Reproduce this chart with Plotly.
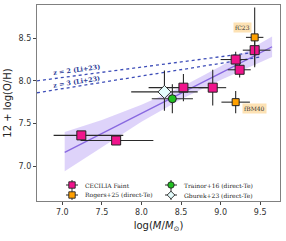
import plotly.graph_objects as go

# CECILIA Faint
cec_x = [7.24, 7.68, 8.53, 8.90, 9.19, 9.24, 9.43]
cec_y = [7.36, 7.30, 7.92, 7.92, 8.25, 8.13, 8.36]
cec_xm = [0.35, 0.45, 0.44, 0.18, 0.19, 0.15, 0.15]
cec_xp = [0.53, 0.47, 0.31, 0.17, 0.15, 0.14, 0.20]
cec_ye = [0.04, 0.04, 0.16, 0.21, 0.09, 0.09, 0.18]

# Rogers+25
rog_x = [9.43, 9.19]
rog_y = [8.51, 7.75]
rog_xe = [0.11, 0.18]
rog_ye = [0.35, 0.13]
rog_lab = ["fC23", "fBM40"]

# Trainor+16
tra_x = [8.39]
tra_y = [7.79]
tra_xe = [0.26]
tra_ye = [0.17]

# Gburek+23
gbu_x = [8.29]
gbu_y = [7.87]
gbu_xe = [0.42]
gbu_yp = [0.25]
gbu_ym = [0.22]

# Li+23 relations
li_x = [6.68, 9.5]
li_z2 = [8.00, 8.344]
li_z3 = [7.86, 8.28]

# Fit and band
fit_x = [7.03, 7.5, 8.0, 8.5, 9.0, 9.65]
fit_y = [7.16, 7.38, 7.62, 7.855, 8.09, 8.40]
band_lo = [6.94, 7.22, 7.52, 7.785, 8.01, 8.28]
band_hi = [7.40, 7.54, 7.72, 7.925, 8.17, 8.52]

legend_names = ["CECILIA Faint", "Rogers+25 (direct-Te)",
                "Trainor+16 (direct-Te)", "Gburek+23 (direct-Te)"]

ERR = "#2a2a2a"
SERIF = "DejaVu Serif"
W, H = 286, 241
ML, MR, MT, MB = 37, 6, 5, 40
PW, PH = W - ML - MR, H - MT - MB

COL_CEC = "#f0148c"
COL_ROG = "#ffa000"
COL_TRA = "#22c022"
COL_GBU = "#e4fcfc"

fig = go.Figure()

fig.add_trace(go.Scatter(x=fit_x, y=band_lo, mode="lines", line=dict(width=0),
                         showlegend=False, hoverinfo="skip"))
fig.add_trace(go.Scatter(x=fit_x, y=band_hi, mode="lines", line=dict(width=0),
                         fill="tonexty", fillcolor="rgba(160,130,240,0.35)",
                         showlegend=False, hoverinfo="skip"))
fig.add_trace(go.Scatter(x=fit_x, y=fit_y, mode="lines",
                         line=dict(color="#8868e0", width=1.3), showlegend=False))

for yy in (li_z2, li_z3):
    fig.add_trace(go.Scatter(x=li_x, y=yy, mode="lines",
                             line=dict(color="#3d4db8", width=1.3, dash="dot"),
                             showlegend=False))

fig.add_trace(go.Scatter(
    x=cec_x, y=cec_y, mode="markers", name=legend_names[0], showlegend=False,
    marker=dict(symbol="square", size=9, color=COL_CEC, line=dict(color="#222", width=1)),
    error_x=dict(type="data", array=cec_xp, arrayminus=cec_xm, color=ERR, thickness=1.1, width=0),
    error_y=dict(type="data", array=cec_ye, color=ERR, thickness=1.1, width=0)))
fig.add_trace(go.Scatter(
    x=rog_x, y=rog_y, mode="markers", name=legend_names[1], showlegend=False,
    marker=dict(symbol="square", size=7, color=COL_ROG, line=dict(color="#222", width=1)),
    error_x=dict(type="data", array=rog_xe, color=ERR, thickness=1.1, width=0),
    error_y=dict(type="data", array=rog_ye, color=ERR, thickness=1.1, width=0)))
fig.add_trace(go.Scatter(
    x=tra_x, y=tra_y, mode="markers", name=legend_names[2], showlegend=False,
    marker=dict(symbol="circle", size=8, color=COL_TRA, line=dict(color="#222", width=1)),
    error_x=dict(type="data", array=tra_xe, color=ERR, thickness=1.1, width=0),
    error_y=dict(type="data", array=tra_ye, color=ERR, thickness=1.1, width=0)))
fig.add_trace(go.Scatter(
    x=gbu_x, y=gbu_y, mode="markers", name=legend_names[3], showlegend=False,
    marker=dict(symbol="diamond", size=10, color=COL_GBU, line=dict(color="#333", width=1)),
    error_x=dict(type="data", array=gbu_xe, color=ERR, thickness=1.1, width=0),
    error_y=dict(type="data", array=gbu_yp, arrayminus=gbu_ym, color=ERR, thickness=1.1, width=0)))

# labels for Rogers points
fig.add_annotation(x=rog_x[0], y=rog_y[0], text=rog_lab[0], showarrow=False,
                   xshift=-12, yshift=10, bgcolor="#fde2b4",
                   font=dict(family=SERIF, size=6, color="#333"), borderpad=1)
fig.add_annotation(x=rog_x[1], y=rog_y[1], text=rog_lab[1], showarrow=False,
                   xshift=19, yshift=-6, bgcolor="#fde2b4",
                   font=dict(family=SERIF, size=6, color="#333"), borderpad=1)

fig.add_annotation(x=7.18, y=8.105, text="<b>z = 2 (Li+23)</b>", showarrow=False,
                   textangle=-7.5, yshift=2,
                   font=dict(family=SERIF, size=6.4, color="#2c3b96"))
fig.add_annotation(x=7.18, y=7.963, text="<b>z = 3 (Li+23)</b>", showarrow=False,
                   textangle=-9, yshift=2,
                   font=dict(family=SERIF, size=6.4, color="#2c3b96"))


# manual legend (pixel positions converted to paper coords)
def px(xp):
    return (xp - ML) / PW


def py(yp):
    return (H - MB - yp) / PH


legend_items = [
    (72, 185, "square", COL_CEC, legend_names[0]),
    (72, 195, "square", COL_ROG, legend_names[1]),
    (171, 185, "circle", COL_TRA, legend_names[2]),
    (171, 195, "diamond", COL_GBU, legend_names[3]),
]
for cx, cy, sym, col, name in legend_items:
    line_kw = dict(xref="paper", yref="paper", line=dict(color=ERR, width=1), layer="above")
    fig.add_shape(type="line", x0=px(cx - 6), x1=px(cx + 6), y0=py(cy), y1=py(cy), **line_kw)
    fig.add_shape(type="line", x0=px(cx), x1=px(cx), y0=py(cy - 5), y1=py(cy + 5), **line_kw)
    s = 3.2
    mk = dict(xref="paper", yref="paper", fillcolor=col,
              line=dict(color="#222", width=0.9), layer="above")
    if sym == "square":
        fig.add_shape(type="rect", x0=px(cx - s), x1=px(cx + s), y0=py(cy - s), y1=py(cy + s), **mk)
    elif sym == "circle":
        fig.add_shape(type="circle", x0=px(cx - s), x1=px(cx + s), y0=py(cy - s), y1=py(cy + s), **mk)
    else:
        d = 3.8
        path = "M {} {} L {} {} L {} {} L {} {} Z".format(
            px(cx - d), py(cy), px(cx), py(cy - d), px(cx + d), py(cy), px(cx), py(cy + d))
        fig.add_shape(type="path", path=path, **mk)
    fig.add_annotation(x=px(cx + 11), y=py(cy), xref="paper", yref="paper", text=name,
                       showarrow=False, xanchor="left", yanchor="middle",
                       font=dict(family=SERIF, size=6, color="#222"))

axis_common = dict(showline=True, mirror=True, linecolor="#808080", linewidth=1.3,
                   ticks="outside", ticklen=3, tickcolor="#444", showgrid=False,
                   zeroline=False, automargin=False,
                   tickfont=dict(family="DejaVu Sans", size=8, color="#333"))

fig.update_layout(
    width=W, height=H,
    margin=dict(l=ML, r=MR, t=MT, b=MB),
    paper_bgcolor="white", plot_bgcolor="white",
    showlegend=False,
    xaxis=dict(range=[6.68, 9.75], tickvals=[7.0, 7.5, 8.0, 8.5, 9.0, 9.5],
               ticktext=["7.0", "7.5", "8.0", "8.5", "9.0", "9.5"],
               title=dict(text="log(<i>M</i>/<i>M</i><sub>⊙</sub>)", standoff=6,
                          font=dict(family="DejaVu Sans", size=10, color="#222")),
               **axis_common),
    yaxis=dict(range=[6.59, 8.89], tickvals=[7.0, 7.5, 8.0, 8.5],
               ticktext=["7.0", "7.5", "8.0", "8.5"],
               title=dict(text="12 + log(O/H)", standoff=5,
                          font=dict(family="DejaVu Sans", size=10, color="#222")),
               **axis_common),
)

fig.write_html("out.html", config={"displayModeBar": False},
               post_script="document.body.style.margin='0';document.body.style.overflow='hidden';")
